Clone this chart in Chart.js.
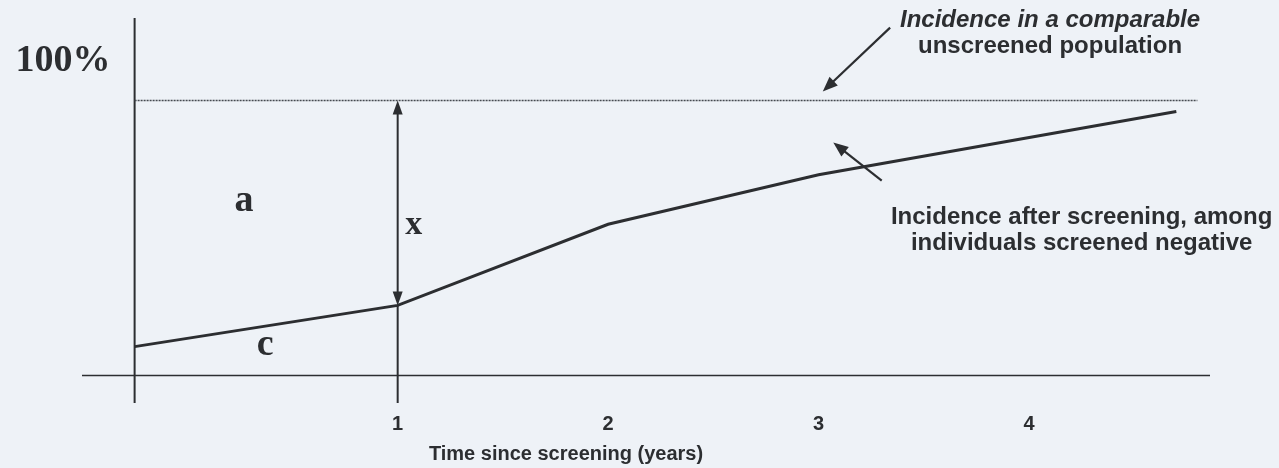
<!DOCTYPE html>
<html>
<head>
<meta charset="utf-8">
<script src="https://cdn.jsdelivr.net/npm/chart.js@4.4.1/dist/chart.umd.min.js"></script>
<style>
  html, body { margin: 0; padding: 0; background: #eef2f7; }
  #wrap { width: 1279px; height: 468px; position: relative; }
</style>
</head>
<body>
<div id="wrap"><canvas id="chart"></canvas></div>
<script>
// x = years since screening, y = % of the unscreened incidence
const screenedX = [-0.25, 1, 2, 3, 4.7];
const screenedY = [10.5, 25.5, 55, 73, 96];
const unscreenedX = [-0.25, 4.8];
const unscreenedY = [100, 100];
const xTicks = [1, 2, 3, 4];
const xTitle = 'Time since screening (years)';
const yAxisAt = -0.25;   // where the vertical axis stands
const gapYear = 1;       // year where the gap "x" is marked

// labels in data units: [text, x, y, font]
const SERIF = 'bold 38px "Liberation Serif", "Times New Roman", serif';
const SERIF_S = 'bold 34px "Liberation Serif", "Times New Roman", serif';
const SANS_B = 'bold 24px "Liberation Sans", Arial, sans-serif';
const SANS_BI = 'italic bold 24px "Liberation Sans", Arial, sans-serif';
const notes = [
  ['100%', -0.59, 114.2, SERIF],
  ['a', 0.27, 63.3, SERIF],
  ['x', 1.076, 54.5, SERIF_S],
  ['c', 0.37, 10.9, SERIF],
  ['Incidence in a comparable', 4.1, 129.1, SANS_BI],
  ['unscreened population', 4.1, 119.6, SANS_B],
  ['Incidence after screening, among', 4.25, 57.5, SANS_B],
  ['individuals screened negative', 4.25, 48, SANS_B]
];
// pointer arrows: [fromX, fromY, toX, toY]
const pointers = [
  [3.34, 126.5, 3.02, 103.3],
  [3.30, 70.9, 3.07, 84.7]
];

const ink = '#2c2e31';
const sansFont = {family: '"Liberation Sans", Arial, sans-serif', size: 20, weight: 'bold'};

function line(ctx, x1, y1, x2, y2) {
  ctx.beginPath();
  ctx.moveTo(x1, y1);
  ctx.lineTo(x2, y2);
  ctx.stroke();
}

function head(ctx, fx, fy, tx, ty, len, half) {
  const ang = Math.atan2(ty - fy, tx - fx);
  ctx.beginPath();
  ctx.moveTo(tx, ty);
  ctx.lineTo(tx - len * Math.cos(ang) + half * Math.sin(ang), ty - len * Math.sin(ang) - half * Math.cos(ang));
  ctx.lineTo(tx - len * Math.cos(ang) - half * Math.sin(ang), ty - len * Math.sin(ang) + half * Math.cos(ang));
  ctx.closePath();
  ctx.fill();
}

const overlay = {
  id: 'overlay',
  beforeDatasetsDraw(chart) {
    const {ctx, chartArea: a, scales: {x, y}} = chart;
    ctx.save();
    ctx.strokeStyle = ink;
    ctx.lineWidth = 2;
    const ax = x.getPixelForValue(yAxisAt);
    line(ctx, ax, a.top, ax, a.bottom);
    ctx.lineWidth = 1.6;
    const y0 = y.getPixelForValue(0);
    line(ctx, a.left, y0, a.right, y0);
    // year-1 marker from the curve down past the axis
    ctx.lineWidth = 2;
    const gx = x.getPixelForValue(gapYear);
    line(ctx, gx, y.getPixelForValue(screenedY[1]), gx, a.bottom);
    ctx.restore();
  },
  afterDatasetsDraw(chart) {
    const {ctx, chartArea: a, scales: {x, y}} = chart;
    ctx.save();
    ctx.strokeStyle = ink;
    ctx.fillStyle = ink;
    // gap arrow x between the two curves at year 1
    const gx = x.getPixelForValue(gapYear);
    const top = y.getPixelForValue(unscreenedY[0]);
    const bot = y.getPixelForValue(screenedY[1]);
    ctx.lineWidth = 2;
    line(ctx, gx, top + 8, gx, bot - 8);
    head(ctx, gx, bot, gx, top, 14, 5);
    head(ctx, gx, top, gx, bot, 14, 5);
    // pointer arrows
    pointers.forEach(p => {
      const fx = x.getPixelForValue(p[0]), fy = y.getPixelForValue(p[1]);
      const tx = x.getPixelForValue(p[2]), ty = y.getPixelForValue(p[3]);
      ctx.lineWidth = 2.2;
      line(ctx, fx, fy, tx + (fx - tx) * 0.12, ty + (fy - ty) * 0.12);
      head(ctx, fx, fy, tx, ty, 15, 6);
    });
    // text
    ctx.textAlign = 'center';
    ctx.textBaseline = 'middle';
    notes.forEach(n => {
      ctx.font = n[3];
      ctx.fillText(n[0], x.getPixelForValue(n[1]), y.getPixelForValue(n[2]));
    });
    // axis title, set left of the plot centre as in the source
    ctx.font = 'bold 20px "Liberation Sans", Arial, sans-serif';
    ctx.fillText(xTitle, x.getPixelForValue(1.8), a.bottom + 51);
    ctx.restore();
  }
};

new Chart(document.getElementById('chart'), {
  type: 'scatter',
  data: {
    datasets: [
      {
        label: 'Incidence after screening, among individuals screened negative',
        data: screenedX.map((v, i) => ({x: v, y: screenedY[i]})),
        showLine: true,
        borderColor: ink,
        borderWidth: 3,
        pointRadius: 0,
        tension: 0
      },
      {
        label: 'Incidence in a comparable unscreened population',
        data: unscreenedX.map((v, i) => ({x: v, y: unscreenedY[i]})),
        showLine: true,
        borderColor: '#464a50',
        borderWidth: 1.6,
        borderDash: [2, 1],
        pointRadius: 0
      }
    ]
  },
  options: {
    responsive: true,
    maintainAspectRatio: false,
    animation: false,
    events: [],
    layout: {padding: {left: 82, right: 69, top: 18, bottom: 23}},
    plugins: {legend: {display: false}, tooltip: {enabled: false}},
    scales: {
      x: {
        type: 'linear',
        min: -0.5,
        max: 4.86,
        afterBuildTicks: s => { s.ticks = xTicks.map(v => ({value: v})); },
        grid: {display: false, drawTicks: false},
        border: {display: false},
        ticks: {color: ink, padding: 9, maxRotation: 0, autoSkip: false, font: sansFont},
        title: {display: false}
      },
      y: {
        type: 'linear',
        display: false,
        min: -10,
        max: 130
      }
    }
  },
  plugins: [overlay]
});
</script>
</body>
</html>
